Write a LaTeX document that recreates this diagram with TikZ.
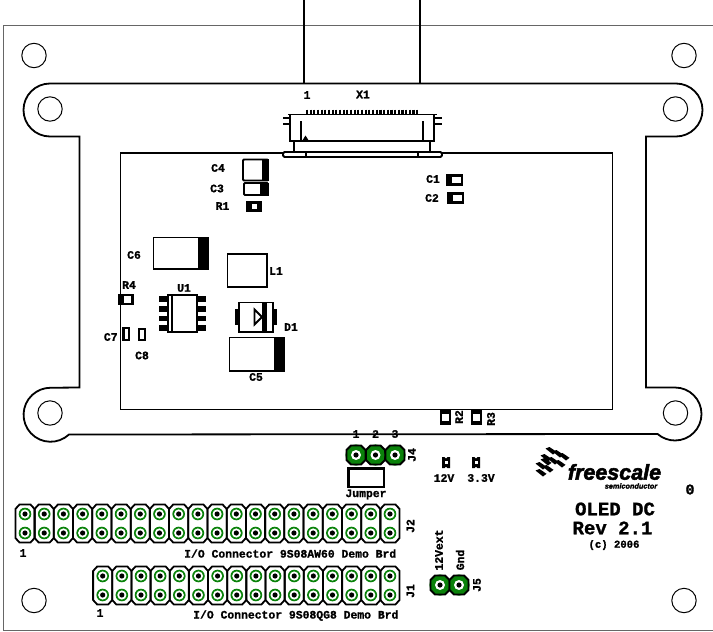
\documentclass[tikz,border=0pt]{standalone}
\usepackage{fontspec}
\newfontfamily\labf{Liberation Mono}[BoldFeatures={FakeBold=1.2}]
\newfontfamily\logof{Liberation Sans}[BoldItalicFeatures={FakeBold=2.5}]
\definecolor{padgreen}{RGB}{10,130,10}
\tikzset{
  lab/.style={inner sep=0pt,font=\labf\bfseries\fontsize{11.4}{12}\selectfont},
  big/.style={inner sep=0pt,font=\labf\bfseries\fontsize{19}{20}\selectfont},
  hole/.style={draw=black,line width=1pt},
  outl/.style={draw=black,line width=1.8pt},
  part/.style={draw=black,line width=1.8pt,fill=white},
  solid/.style={fill=black,draw=none},
}
\newcommand{\smallpad}[2]{%
  \fill[padgreen] (#1,#2) circle[radius=6.3];
  \fill[white] (#1,#2) circle[radius=4.6];
  \fill[black] (#1,#2) circle[radius=2.6];}
\newcommand{\bigpad}[2]{%
  \fill[padgreen] (#1,#2) circle[radius=10.6];
  \octo{#1}{#2}
  \fill[white] (#1,#2) circle[radius=5];
  \fill[black] (#1,#2) circle[radius=2.6];}
\newcommand{\octo}[2]{%
  \draw[outl] (#1-5,#2-9.5)--(#1+5,#2-9.5)--(#1+9.5,#2-5)--(#1+9.5,#2+5)--(#1+5,#2+9.5)--(#1-5,#2+9.5)--(#1-9.5,#2+5)--(#1-9.5,#2-5)--cycle;}
\newcommand{\column}[3]{%
  \draw[outl] (#1-5.5,#2-9.5)--(#1+5.5,#2-9.5)--(#1+9.6,#2-5)--(#1+9.6,#3+5)--(#1+5.5,#3+9.5)--(#1-5.5,#3+9.5)--(#1-9.6,#3+5)--(#1-9.6,#2-5)--cycle;
  \smallpad{#1}{#2}\smallpad{#1}{#3}}
\newcommand{\tile}[2]{%
  \fill[black] (#1-5.5,#2-2.5)--(#1-1.5,#2-4)--(#1+5.5,#2+0.8)--(#1+2,#2+3.5)--cycle;}
\newcommand{\led}[2]{%
  \fill[black] (#1-4,#2)--(#1-1.5,#2)--(#1,#2+1.5)--(#1+1.5,#2)--(#1+4,#2)--(#1+4,#2+11)--(#1+1.5,#2+11)--(#1,#2+9.5)--(#1-1.5,#2+11)--(#1-4,#2+11)--cycle;
  \fill[white] (#1-1.5,#2+4)rectangle(#1+1.5,#2+7);}
\begin{document}
\begin{tikzpicture}[x=1pt,y=-1pt]
\useasboundingbox (0,0) rectangle (713,632);
% board edge
\draw[draw=black!60,line width=1pt] (713,25.5)--(3.5,25.5)--(3.5,630)--(713,630);
% holes
\foreach \p in {(34,55.5),(684,55.5),(34,600.5),(684,600.5),(50,109),(675.5,109),(50,413),(675.5,413)}
  \draw[hole] \p circle[radius=12.2];
% LCD outline
\draw[outl] (50,83.5)--(676,83.5) arc[start angle=-90,end angle=90,radius=26.5]
  --(646,136.5)--(646,387.5)--(675,387.5) arc[start angle=-90,end angle=131,radius=26.5]
  --(69,434.5) arc[start angle=47,end angle=270,radius=27]
  --(79.5,387.5)--(79.5,136.5)--(50,136.5) arc[start angle=90,end angle=270,radius=26.5]--cycle;
\draw[outl] (120.5,153) rectangle (612.5,409.5);
% flex wires
\draw[line width=1.6pt] (304,0)--(304,83.5) (420,0)--(420,83.5);
% X1
\foreach \i in {0,...,30} \draw[line width=2.2pt] (307+3.67*\i,109.5)--(307+3.67*\i,115);
\draw[outl] (288,114.5)--(437,114.5);
\draw[outl] (290,114.5)--(290,141)--(434,141)--(434,114.5);
\draw[line width=2.6pt] (301,121)--(301,141) (423,121)--(423,141);
\fill[black] (302,141)--(305.5,135.5)--(309,141)--cycle;
\draw[line width=1.6pt] (283,118)--(289,118) (283,124)--(289,124) (435,118)--(442,118) (435,124)--(442,124);
\draw[line width=1.4pt] (294,141)--(294,152) (430,141)--(430,152);
\draw[part,rounded corners=1.5pt] (283,152) rectangle (442,157);
\draw[line width=1.6pt] (306,152)--(306,157) (418,152)--(418,157);
% C1 C2
\draw[part,line width=2.2pt] (447,175.5) rectangle (462,184.5);
\fill[black] (446,174.5)rectangle(452,185.5);
\draw[part,line width=2.2pt] (448,193.5) rectangle (463,202.5);
\fill[black] (447,192.5)rectangle(453,203.5);
% C4 C3 R1
\draw[part,rounded corners=1pt] (243,159.5) rectangle (268,180.5);
\fill[black] (262,159)rectangle(268.5,181);
\draw[part,rounded corners=1pt] (244,183) rectangle (268,195);
\fill[black] (260,182.5)rectangle(268.5,195.5);
\fill[black] (246,201)rectangle(262,212);
\fill[white] (251.5,204)rectangle(257,209);
% C6
\draw[part] (153.5,237.5) rectangle (208,269);
\fill[black] (198,237)rectangle(208.5,269.5);
% L1
\draw[part] (227.5,254) rectangle (267,287);
% R4
\fill[black] (118,294)rectangle(134,304.5);
\fill[white] (124,296)rectangle(130.5,302.5);
% U1
\foreach \y in {299,309,318.5,328}{
  \fill[black] (158.5,\y-2.6)rectangle(168,\y+2.6);
  \fill[black] (197,\y-2.6)rectangle(206,\y+2.6);}
\draw[part] (168,295) rectangle (197,332);
\draw[line width=1.2pt] (172,295)--(172,332);
% D1
\fill[black] (235,309)rectangle(240,325);
\fill[black] (272,309)rectangle(277,325);
\draw[part] (239,302.5) rectangle (273,332);
\fill[black] (262,302)rectangle(266.5,332);
\draw[line width=1.8pt,fill=white] (254.5,309.5)--(262,317)--(254.5,324.5)--cycle;
% C5
\draw[part] (229.5,337.5) rectangle (284,371);
\fill[black] (274,337)rectangle(284.5,371.5);
% C7 C8
\draw[part,line width=2pt] (123,328) rectangle (128.5,340);
\fill[black] (122,327)rectangle(124.5,341);
\draw[part,line width=2pt] (139,328.5) rectangle (144.5,340);
% R2 R3
\fill[black] (440,409)rectangle(451,425);
\fill[white] (442,413.5)rectangle(449,420.5);
\fill[black] (471,409)rectangle(482,425);
\fill[white] (473,413.5)rectangle(480,420.5);
% J4
\foreach \x in {356,375.5,395} {\bigpad{\x}{455}}
% Jumper
\draw[draw=black,line width=2.4pt] (348.5,468.5) rectangle (384,487);
% LEDs
\led{446}{457}
\led{476}{457}
% J2 J1
\foreach \i in {0,...,19} {\pgfmathsetmacro\xx{25+19.21*\i}\column{\xx}{514}{533}}
\foreach \i in {0,...,15} {\pgfmathsetmacro\xx{102.7+19.15*\i}\column{\xx}{576}{595}}
% J5
\bigpad{440}{585}\bigpad{459}{585}
% labels
\node[lab] (t1) at (307,95) {1};
\node[lab] (x1) at (363,94.5) {X1};
\node[lab] (c1) at (433,179) {C1};
\node[lab] (c2) at (432,198) {C2};
\node[lab] (c4) at (218,168) {C4};
\node[lab] (c3) at (217,188.5) {C3};
\node[lab] (r1) at (222.5,206) {R1};
\node[lab] (c6) at (134,255) {C6};
\node[lab] (l1) at (276,271) {L1};
\node[lab] (r4) at (129,285) {R4};
\node[lab] (u1) at (184,288) {U1};
\node[lab] (c7) at (110.7,337) {C7};
\node[lab] (c8) at (142,355.5) {C8};
\node[lab] (d1) at (291,327) {D1};
\node[lab] (c5) at (256,377) {C5};
\node[lab,rotate=90] (r2) at (459,417) {R2};
\node[lab,rotate=90] (r3) at (491,419) {R3};
\node[lab] (n1) at (356,434) {1};
\node[lab] (n2) at (375.5,434) {2};
\node[lab] (n3) at (395,434) {3};
\node[lab,rotate=90] (j4) at (412,455) {J4};
\node[lab] (jm) at (366,494.5) {Jumper};
\node[lab] (v12) at (444,478) {12V};
\node[lab] (v33) at (481,478) {3.3V};
\node[lab,rotate=90] (j2) at (410.5,526) {J2};
\node[lab,rotate=90] (j1) at (410.5,591) {J1};
\node[lab] (p1) at (23,553) {1};
\node[lab] (p2) at (100,613) {1};
\node[lab,anchor=west] (tj2) at (184,553.5) {I/O Connector 9S08AW60 Demo Brd};
\node[lab,anchor=west] (tj1) at (193,615.5) {I/O Connector 9S08QG8 Demo Brd};
\node[lab,rotate=90] (v12x) at (439,550) {12Vext};
\node[lab,rotate=90] (gnd) at (460,560) {Gnd};
\node[lab,rotate=90] (j5) at (477,585) {J5};
\node[big] (oled) at (615,509) {OLED DC};
\node[big] (rev) at (612.5,528) {Rev 2.1};
\node[lab,font=\labf\bfseries\fontsize{10.6}{11}\selectfont] (cp) at (614,545) {(c) 2006};
\node[lab,font=\labf\bfseries\fontsize{15}{16}\selectfont] (zero) at (690,489.5) {0};
% logo
\foreach \a/\b in {551/451,558/454,564/457,546/458,553/461,560/464,541/466,548/469,546/462,541/473}{\tile{\a}{\b}}
\node[inner sep=0pt,font=\logof\bfseries\itshape\fontsize{21.5}{22}\selectfont] (fs) at (614.5,472) {freescale};
\node[inner sep=0pt,font=\logof\bfseries\itshape\fontsize{7.3}{8}\selectfont] (sc) at (631,486) {semiconductor};
\end{tikzpicture}
\end{document}
